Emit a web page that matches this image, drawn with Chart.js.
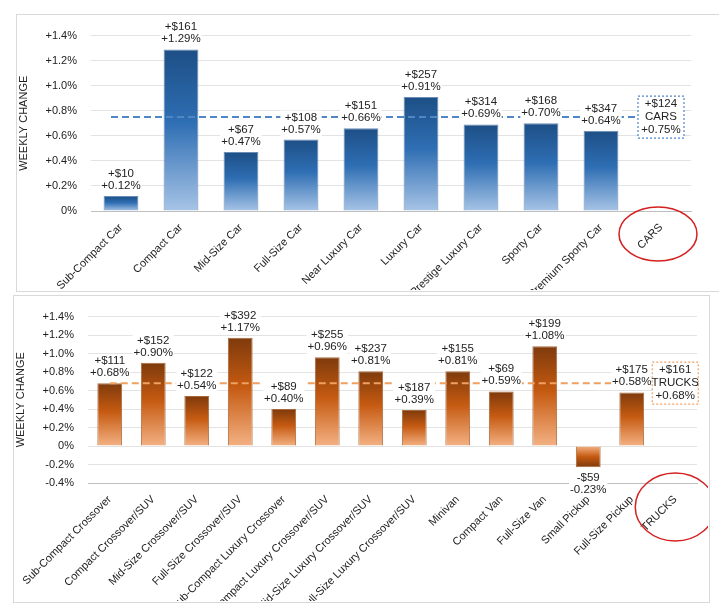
<!DOCTYPE html>
<html><head><meta charset="utf-8">
<script src="https://cdn.jsdelivr.net/npm/chart.js@4"></script>
<style>
body{margin:0;background:#fff;width:719px;height:614px;position:relative;overflow:hidden;font-family:"Liberation Sans",Arial,sans-serif}
.panel{position:absolute;border:1px solid #d9d9d9;background:#fff}
canvas{position:absolute}
</style></head><body>
<div class="panel" style="left:16px;top:14px;width:705px;height:276px"></div>
<div class="panel" style="left:13px;top:295px;width:695px;height:306px"></div>
<div style="position:absolute;left:17px;top:15px;width:700px;height:275px"><canvas id="c1"></canvas></div>
<div style="position:absolute;left:14px;top:296px;width:694px;height:305px"><canvas id="c2"></canvas></div>
<script>
const carCategories=["Sub-Compact Car","Compact Car","Mid-Size Car","Full-Size Car","Near Luxury Car","Luxury Car","Prestige Luxury Car","Sporty Car","Premium Sporty Car","CARS"];
const carPct=[0.12,1.29,0.47,0.57,0.66,0.91,0.69,0.70,0.64,null];
const carDollars=["+$10","+$161","+$67","+$108","+$151","+$257","+$314","+$168","+$347",null];
const carAvg={pct:0.75,dollars:"+$124",name:"CARS"};
const carTicks=[0,0.2,0.4,0.6,0.8,1.0,1.2,1.4];

const truckCategories=["Sub-Compact Crossover","Compact Crossover/SUV","Mid-Size Crossover/SUV","Full-Size Crossover/SUV","Sub-Compact Luxury Crossover","Compact Luxury Crossover/SUV","Mid-Size Luxury Crossover/SUV","Full-Size Luxury Crossover/SUV","Minivan","Compact Van","Full-Size Van","Small Pickup","Full-Size Pickup","TRUCKS"];
const truckPct=[0.68,0.90,0.54,1.17,0.40,0.96,0.81,0.39,0.81,0.59,1.08,-0.23,0.58,null];
const truckDollars=["+$111","+$152","+$122","+$392","+$89","+$255","+$237","+$187","+$155","+$69","+$199","-$59","+$175",null];
const truckAvg={pct:0.68,dollars:"+$161",name:"TRUCKS"};
const truckTicks=[-0.4,-0.2,0,0.2,0.4,0.6,0.8,1.0,1.2,1.4];

const FONT='"Liberation Sans", Arial, sans-serif';
function fmtTick(v){v=Math.round(v*10)/10;if(v===0)return "0%";return (v>0?"+":"")+v.toFixed(1)+"%";}
function fmtPct(v){return (v>=0?"+":"")+v.toFixed(2)+"%";}

function makeChart(id,cats,vals,dollars,avg,ticks,cols,geom){
  const overlay={
    id:'ov',
    afterDatasetsDraw(chart){
      const ctx=chart.ctx,x=chart.scales.x,y=chart.scales.y,meta=chart.getDatasetMeta(0);
      ctx.save();
      ctx.font='11.5px '+FONT;ctx.textAlign='center';
      const ya=y.getPixelForValue(avg.pct);
      const lastX=x.getPixelForValue(cats.length-1);
      const bw=46,bh=42;
      // dashed avg line
      ctx.strokeStyle=cols.dash;ctx.lineWidth=2;ctx.setLineDash([7,4]);
      ctx.beginPath();ctx.moveTo(x.getPixelForValue(0)-geom.lineStart,ya);ctx.lineTo(lastX-bw/2,ya);ctx.stroke();
      // labels with white backgrounds
      vals.forEach((v,i)=>{
        if(v===null)return;
        const el=meta.data[i];const cx=el.x;
        const t1=dollars[i],t2=fmtPct(v);
        let top;
        if(v>=0){top=el.y-29;}else{top=el.y+4;}
        const w=Math.max(ctx.measureText(t1).width,ctx.measureText(t2).width)+2;
        ctx.fillStyle='#fff';ctx.fillRect(cx-w/2,top,w,26);
        ctx.fillStyle='#222';ctx.textBaseline='top';
        ctx.fillText(t1,cx,top+1);ctx.fillText(t2,cx,top+13);
      });
      // avg box
      ctx.setLineDash([2,2]);ctx.lineWidth=1.2;ctx.strokeStyle=cols.dash;
      ctx.fillStyle='#fff';ctx.fillRect(lastX-bw/2,ya-bh/2,bw,bh);
      ctx.strokeRect(lastX-bw/2,ya-bh/2,bw,bh);
      ctx.fillStyle='#222';ctx.textBaseline='top';
      ctx.fillText(avg.dollars,lastX,ya-bh/2+2);ctx.fillText(avg.name,lastX,ya-bh/2+15);ctx.fillText(fmtPct(avg.pct),lastX,ya-bh/2+28);
      // red ellipse
      ctx.setLineDash([]);ctx.strokeStyle='#d42020';ctx.lineWidth=1.5;
      ctx.beginPath();ctx.ellipse(lastX+geom.ex,y.bottom+geom.ey,geom.rx,geom.ry,0,0,Math.PI*2);ctx.stroke();
      ctx.restore();
    }
  };
  return new Chart(document.getElementById(id),{
    type:'bar',
    data:{labels:cats,datasets:[{data:vals,borderWidth:1,borderColor:cols.border,
      backgroundColor(c){
        const ch=c.chart;if(!ch.chartArea||c.dataIndex===undefined)return cols.mid;
        const v=c.raw;if(v===null)return cols.mid;
        const y=ch.scales.y;const y0=y.getPixelForValue(0),y1=y.getPixelForValue(v);
        if(Math.abs(y1-y0)<1)return cols.mid;
        const g=ch.ctx.createLinearGradient(0,y1,0,y0);
        if(v>=0){g.addColorStop(0,cols.dark);g.addColorStop(0.45,cols.mid);g.addColorStop(1,cols.light);}
        else{g.addColorStop(0,cols.dark);g.addColorStop(0.5,cols.mid);g.addColorStop(1,cols.light);}
        return g;
      },
      categoryPercentage:1,barPercentage:geom.barPct}]},
    options:{responsive:true,maintainAspectRatio:false,animation:false,
      layout:{padding:{top:geom.pt,right:geom.pr,left:0,bottom:0}},
      plugins:{legend:{display:false},tooltip:{enabled:false}},
      scales:{
        x:{grid:{display:false},border:{color:'#bfbfbf'},
          ticks:{color:'#222',font:{family:FONT,size:11},maxRotation:45,minRotation:45,autoSkip:false,padding:2},
          afterFit(s){s.height=geom.xh;}},
        y:{min:ticks[0],max:ticks[ticks.length-1],
          afterBuildTicks(s){s.ticks=ticks.map(v=>({value:v}));},
          grid:{color:'#e3e3e3',drawTicks:false},border:{display:false},
          ticks:{color:'#222',font:{family:FONT,size:11},padding:14,callback:v=>fmtTick(v)},
          title:{display:true,text:'WEEKLY CHANGE',color:'#222',font:{family:FONT,size:11},padding:0},
          afterFit(s){s.width=74;}}
      }},
    plugins:[overlay]
  });
}
makeChart('c1',carCategories,carPct,carDollars,carAvg,carTicks,
  {dark:'#1d4f86',mid:'#2e6eb3',light:'#a7c4e6',border:'#6a8db5',dash:'#4f86c6'},
  {pt:15,pr:26,xh:79,barPct:0.58,lineStart:10,ex:-3,ey:23,rx:39,ry:27});
makeChart('c2',truckCategories,truckPct,truckDollars,truckAvg,truckTicks,
  {dark:'#7e3a0c',mid:'#c55a11',light:'#f4b183',border:'#a86a3d',dash:'#f0a060'},
  {pt:10,pr:11,xh:118,barPct:0.57,lineStart:0,ex:0,ey:24,rx:40,ry:34});
</script>
</body></html>
